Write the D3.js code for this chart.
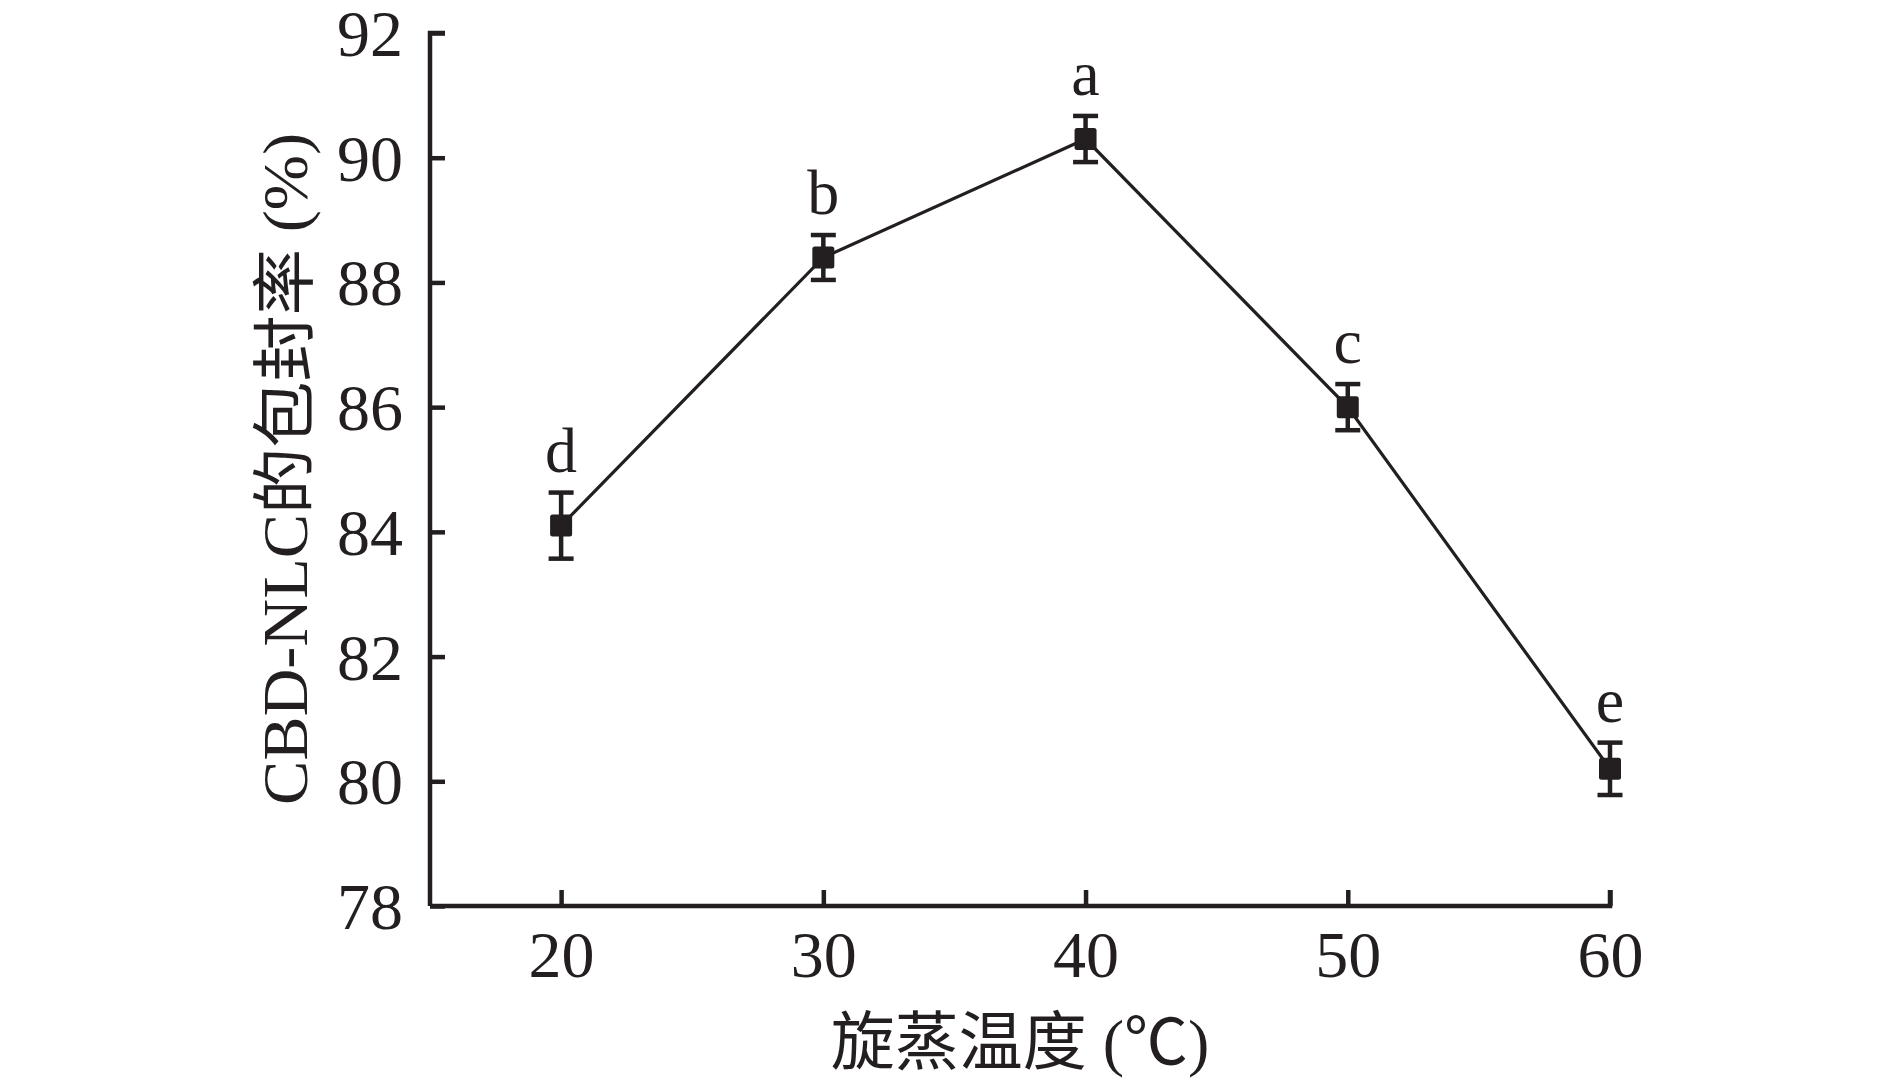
<!DOCTYPE html>
<html><head><meta charset="utf-8">
<script src="https://cdn.jsdelivr.net/npm/d3@7"></script>
<style>
html,body{margin:0;padding:0;background:#fff;}
svg text{font-family:"Liberation Serif","Times New Roman","Noto Sans CJK SC",serif;fill:#231f20;}
</style></head>
<body>
<svg id="chart" width="1890" height="1079"></svg>
<script>
const temps = [20, 30, 40, 50, 60];
const rates = [84.1, 88.4, 90.3, 86.0, 80.2];
const errs = [0.53, 0.36, 0.37, 0.37, 0.42];
const letters = ["d", "b", "a", "c", "e"];
const xTicks = [20, 30, 40, 50, 60];
const yTicks = [78, 80, 82, 84, 86, 88, 90, 92];
const xTitle = "旋蒸温度 (℃)";
const yTitle = "CBD-NLC的包封率 (%)";

(function () {
const ink = "#231f20";
const svg = d3.select("#chart");
const mLeft = 430, mRight = 1610, mTop = 33, mBottom = 906;

const x = d3.scaleLinear().domain([15, 60]).range([mLeft, mRight]);
const y = d3.scaleLinear().domain([78, 92]).range([mBottom, mTop]);

// axes
const xAxis = svg.append("g").attr("transform", `translate(0,${mBottom})`)
  .call(d3.axisBottom(x).tickValues(xTicks).tickSizeInner(-16).tickSizeOuter(0).tickPadding(40));
const yAxis = svg.append("g").attr("transform", `translate(${mLeft},0)`)
  .call(d3.axisLeft(y).tickValues(yTicks).tickSizeInner(-15).tickSizeOuter(0).tickPadding(27));
[xAxis, yAxis].forEach(g => {
  g.select(".domain").attr("stroke", ink).attr("stroke-width", 4.5);
  g.selectAll(".tick line").attr("stroke", ink).attr("stroke-width", 4.5);
  g.selectAll(".tick text").attr("fill", ink).style("font-size", "66px");
});
xAxis.selectAll(".tick text").attr("dy", "0.71em").attr("y", 24);
yAxis.selectAll(".tick text").attr("dy", "0.34em");
xAxis.select(".domain").attr("d", `M${mLeft},0H${mRight}V-16`);
yAxis.select(".domain").attr("d", `M15,${mTop}H0V${mBottom}`);

// line
const data = temps.map((t, i) => ({t, v: rates[i], e: errs[i], l: letters[i]}));
svg.append("path").datum(data)
  .attr("fill", "none").attr("stroke", ink).attr("stroke-width", 3.2)
  .attr("d", d3.line().x(d => x(d.t)).y(d => y(d.v)));

// error bars
const eb = svg.append("g").selectAll("g").data(data).join("g");
eb.append("line").attr("x1", d => x(d.t)).attr("x2", d => x(d.t))
  .attr("y1", d => y(d.v + d.e)).attr("y2", d => y(d.v - d.e))
  .attr("stroke", ink).attr("stroke-width", 4.5);
eb.append("line").attr("x1", d => x(d.t) - 12.5).attr("x2", d => x(d.t) + 12.5)
  .attr("y1", d => y(d.v + d.e)).attr("y2", d => y(d.v + d.e))
  .attr("stroke", ink).attr("stroke-width", 4.5);
eb.append("line").attr("x1", d => x(d.t) - 12.5).attr("x2", d => x(d.t) + 12.5)
  .attr("y1", d => y(d.v - d.e)).attr("y2", d => y(d.v - d.e))
  .attr("stroke", ink).attr("stroke-width", 4.5);

// markers
svg.append("g").selectAll("rect").data(data).join("rect")
  .attr("x", d => x(d.t) - 11).attr("y", d => y(d.v) - 11)
  .attr("width", 22).attr("height", 22).attr("rx", 2.5)
  .attr("fill", ink);

// significance letters
svg.append("g").selectAll("text").data(data).join("text")
  .attr("x", d => x(d.t)).attr("y", d => y(d.v + d.e) - 21)
  .attr("text-anchor", "middle").style("font-size", "64px")
  .text(d => d.l);

// axis titles
svg.append("text").attr("x", 1020).attr("y", 1064).attr("text-anchor", "middle")
  .style("font-size", "64px").text(xTitle);
svg.append("text").attr("transform", `translate(307,469) rotate(-90)`)
  .attr("text-anchor", "middle").style("font-size", "64px")
  .attr("textLength", 672).attr("lengthAdjust", "spacingAndGlyphs")
  .text(yTitle);
})();
</script>
</body></html>
